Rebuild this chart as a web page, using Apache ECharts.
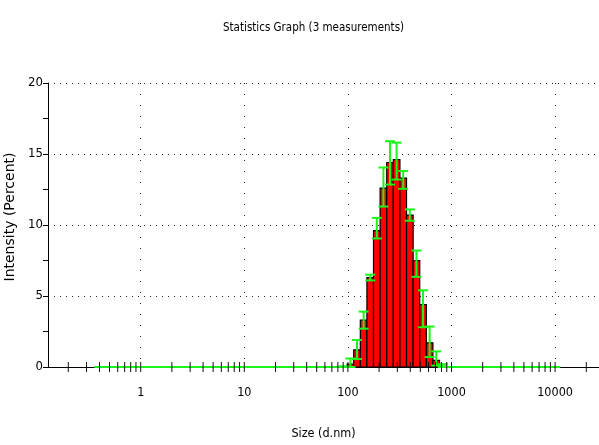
<!DOCTYPE html>
<html>
<head>
<meta charset="utf-8">
<script src="https://cdn.jsdelivr.net/npm/echarts@6/dist/echarts.min.js"></script>
<style>
  html, body { margin: 0; padding: 0; background: #fff; }
  #chart { width: 599px; height: 445px; }
</style>
</head>
<body>
<div id="chart"></div>
<script>
// size classes (d.nm), 70 log-spaced bins
var sizes = [
  0.4, 0.4632, 0.5365, 0.6213, 0.7195, 0.8332, 0.9649, 1.117, 1.294, 1.499,
  1.736, 2.010, 2.328, 2.696, 3.122, 3.615, 4.187, 4.849, 5.615, 6.503,
  7.531, 8.721, 10.10, 11.70, 13.54, 15.69, 18.17, 21.04, 24.36, 28.21,
  32.67, 37.84, 43.82, 50.75, 58.77, 68.06, 78.82, 91.28, 105.7, 122.4,
  141.8, 164.2, 190.1, 220.2, 255.0, 295.3, 342.0, 396.1, 458.7, 531.2,
  615.1, 712.4, 825.0, 955.4, 1106, 1281, 1484, 1718, 1990, 2305,
  2669, 3091, 3580, 4145, 4801, 5560, 6439, 7456, 8635, 10000
];

// mean intensity (%)
var intensity = [
  0, 0, 0, 0, 0, 0, 0, 0, 0, 0,
  0, 0, 0, 0, 0, 0, 0, 0, 0, 0,
  0, 0, 0, 0, 0, 0, 0, 0, 0, 0,
  0, 0, 0, 0, 0, 0, 0, 0, 0.2, 1.2,
  3.3, 6.3, 9.6, 12.6, 14.4, 14.6, 13.3, 10.7, 7.5, 4.4,
  1.7, 0.47, 0.05, 0, 0, 0, 0, 0, 0, 0,
  0, 0, 0, 0, 0, 0, 0, 0, 0, 0
];

// error bar ends (%)
var errLow = [
  0, 0, 0, 0, 0, 0, 0, 0, 0, 0,
  0, 0, 0, 0, 0, 0, 0, 0, 0, 0,
  0, 0, 0, 0, 0, 0, 0, 0, 0, 0,
  0, 0, 0, 0, 0, 0, 0, 0, 0, 0.56,
  2.7, 6.1, 9.05, 11.3, 12.85, 13.2, 12.55, 10.3, 6.35, 2.8,
  0.7, 0.1, 0, 0, 0, 0, 0, 0, 0, 0,
  0, 0, 0, 0, 0, 0, 0, 0, 0, 0
];
var errHigh = [
  0, 0, 0, 0, 0, 0, 0, 0, 0, 0,
  0, 0, 0, 0, 0, 0, 0, 0, 0, 0,
  0, 0, 0, 0, 0, 0, 0, 0, 0, 0,
  0, 0, 0, 0, 0, 0, 0, 0.05, 0.6, 1.9,
  3.9, 6.5, 10.5, 14.05, 15.9, 15.8, 13.8, 11.1, 8.2, 5.4,
  2.85, 1.1, 0.2, 0, 0, 0, 0, 0, 0, 0,
  0, 0, 0, 0, 0, 0, 0, 0, 0, 0
];

// x-axis tick positions (decades + 2..9 minors)
var xTicks = [
  0.2, 0.3, 0.4, 0.5, 0.6, 0.7, 0.8, 0.9,
  1, 2, 3, 4, 5, 6, 7, 8, 9,
  10, 20, 30, 40, 50, 60, 70, 80, 90,
  100, 200, 300, 400, 500, 600, 700, 800, 900,
  1000, 2000, 3000, 4000, 5000, 6000, 7000, 8000, 9000,
  10000, 20000
];

var narrow = "'Liberation Sans Narrow', 'DejaVu Sans Condensed', sans-serif";

var chart = echarts.init(document.getElementById('chart'), null, { renderer: 'canvas' });

// half bin width in log10 units
var halfStep = (Math.log10(sizes[sizes.length - 1]) - Math.log10(sizes[0])) / (sizes.length - 1) / 2;
var binFactor = Math.pow(10, halfStep);

var barData = [];
var errData = [];
for (var i = 0; i < sizes.length; i++) {
  if (intensity[i] > 0) barData.push([sizes[i], intensity[i]]);
  errData.push([sizes[i], errLow[i], errHigh[i]]);
}

chart.setOption({
  animation: false,
  backgroundColor: '#fff',
  title: {
    text: 'Statistics Graph (3 measurements)',
    left: 218,
    top: 17,
    textStyle: { color: '#000', fontSize: 11.5, fontWeight: 'normal', fontFamily: narrow }
  },
  grid: {
    left: 48,
    right: 0,
    top: 83,
    bottom: 78,
    containLabel: false,
    outerBoundsMode: 'none'
  },
  xAxis: {
    type: 'log',
    logBase: 10,
    min: 0.1274,
    max: 26530,
    name: 'Size (d.nm)',
    nameLocation: 'middle',
    nameGap: 60,
    nameTextStyle: { color: '#000', fontSize: 12.5, fontFamily: narrow },
    axisLine: { lineStyle: { color: '#000', width: 1 } },
    axisTick: { show: false },
    axisLabel: {
      color: '#000',
      fontSize: 12.5,
      fontFamily: narrow,
      margin: 19,
      showMinLabel: false,
      showMaxLabel: false,
      formatter: function (v) { return String(Math.round(v)); }
    },
    splitLine: {
      show: true,
      showMinLine: false,
      showMaxLine: false,
      lineStyle: { color: '#222', width: 1, type: [1, 10] }
    }
  },
  yAxis: {
    type: 'value',
    min: 0,
    max: 20,
    interval: 5,
    name: 'Intensity (Percent)',
    nameLocation: 'middle',
    nameGap: 30,
    nameTextStyle: {
      color: '#000',
      fontSize: 14,
      fontFamily: "'DejaVu Sans', sans-serif",
      padding: [0, 0, 0, 16]
    },
    axisLine: { show: true, lineStyle: { color: '#000', width: 1 } },
    axisTick: { show: true, length: 5, lineStyle: { color: '#000' } },
    minorTick: { show: true, splitNumber: 2, length: 5, lineStyle: { color: '#000' } },
    axisLabel: { color: '#000', fontSize: 13, fontFamily: narrow, margin: 5 },
    splitLine: {
      show: true,
      showMinLine: false,
      lineStyle: { color: '#222', width: 1, type: [1, 5] }
    }
  },
  series: [
    {
      name: 'intensity',
      type: 'custom',
      z: 2,
      renderItem: function (params, api) {
        var x = api.value(0);
        var v = api.value(1);
        var p0 = api.coord([x / binFactor, 0]);
        var p1 = api.coord([x * binFactor, v]);
        return {
          type: 'rect',
          shape: { x: p0[0], y: p1[1], width: p1[0] - p0[0], height: p0[1] - p1[1] },
          style: { fill: '#ff0000', stroke: '#000', lineWidth: 1.2 }
        };
      },
      encode: { x: 0, y: 1 },
      data: barData
    },
    {
      name: 'error',
      type: 'custom',
      z: 3,
      renderItem: function (params, api) {
        var x = api.value(0);
        var lo = api.coord([x, api.value(1)]);
        var hi = api.coord([x, api.value(2)]);
        var cap = 5;
        var st = { stroke: '#1cf51c', lineWidth: 2 };
        return {
          type: 'group',
          children: [
            { type: 'line', shape: { x1: lo[0], y1: lo[1], x2: hi[0], y2: hi[1] }, style: st },
            { type: 'line', shape: { x1: lo[0] - cap, y1: lo[1], x2: lo[0] + cap, y2: lo[1] }, style: st },
            { type: 'line', shape: { x1: hi[0] - cap, y1: hi[1], x2: hi[0] + cap, y2: hi[1] }, style: st }
          ]
        };
      },
      encode: { x: 0, y: [1, 2] },
      data: errData
    },
    {
      name: 'ticks',
      type: 'custom',
      z: 4,
      silent: true,
      renderItem: function (params, api) {
        var p = api.coord([api.value(0), 0]);
        return {
          type: 'line',
          shape: { x1: p[0], y1: p[1] - 5, x2: p[0], y2: p[1] + 5 },
          style: { stroke: '#111', lineWidth: 1 }
        };
      },
      encode: { x: 0 },
      data: xTicks.map(function (t) { return [t]; })
    }
  ]
});
</script>
</body>
</html>
